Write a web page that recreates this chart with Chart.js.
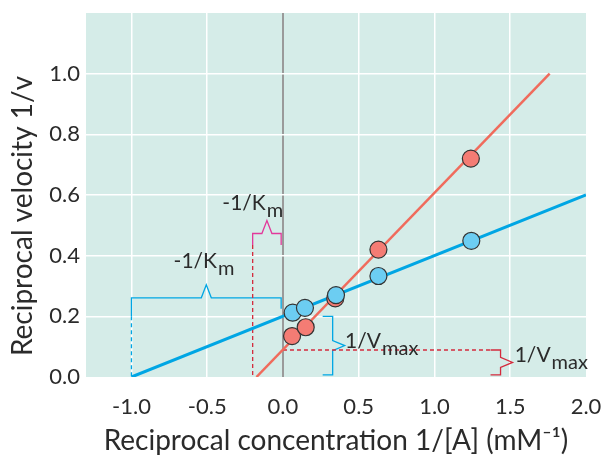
<!DOCTYPE html>
<html lang="en">
<head>
<meta charset="UTF-8">
<title>Lineweaver-Burk plot</title>
<script src="https://cdn.jsdelivr.net/npm/chart.js"></script>
<style>
  html, body { margin: 0; padding: 0; background: #fff; }
</style>
</head>
<body>
<canvas id="plot" width="602" height="455"></canvas>
<script>
const xRed = [0.06, 0.15, 0.345, 0.63, 1.24];
const yRed = [0.135, 0.164, 0.259, 0.42, 0.72];
const xBlue = [0.064, 0.145, 0.35, 0.63, 1.243];
const yBlue = [0.212, 0.228, 0.27, 0.333, 0.449];
// straight lines as drawn: start and end
const redLineX = [-0.175, 1.76];
const redLineY = [0.0, 1.0];
const blueLineX = [-1.0, 2.0];
const blueLineY = [0.0, 0.6];
// axis ticks
const xTicks = [-1.0, -0.5, 0.0, 0.5, 1.0, 1.5, 2.0];
const yTicks = [0.0, 0.2, 0.4, 0.6, 0.8, 1.0];

const pts = (xs, ys) => xs.map((x, i) => ({ x: x, y: ys[i] }));

const TEXT = '#2b2b2b';
const BLUE = '#00a6e4';
const RED = '#f06b5c';
const MAGENTA = '#e2389a';
const DASHRED = '#d42a3c';

// teal plot background
const plotBg = {
    id: 'plotBg',
    beforeDraw(chart) {
        const { ctx, chartArea: a } = chart;
        ctx.save();
        ctx.fillStyle = '#d5ece8';
        ctx.fillRect(a.left, a.top, a.right - a.left, a.bottom - a.top);
        ctx.restore();
    }
};

// brackets, dashed guides and their labels
function hBrace(ctx, xa, xb, y, legA, legB) {
    const xm = (xa + xb) / 2;
    ctx.beginPath();
    ctx.moveTo(xa, legA);
    ctx.lineTo(xa, y);
    ctx.lineTo(xm - 5, y);
    ctx.lineTo(xm, y - 13);
    ctx.lineTo(xm + 5, y);
    ctx.lineTo(xb, y);
    ctx.lineTo(xb, legB);
    ctx.stroke();
}
function vBrace(ctx, x, ya, yb) {
    const ym = (ya + yb) / 2;
    ctx.beginPath();
    ctx.moveTo(x - 10, ya);
    ctx.lineTo(x, ya);
    ctx.lineTo(x, ym - 5);
    ctx.lineTo(x + 12, ym);
    ctx.lineTo(x, ym + 5);
    ctx.lineTo(x, yb);
    ctx.lineTo(x - 10, yb);
    ctx.stroke();
}
function dashed(ctx, x1, y1, x2, y2, color) {
    ctx.save();
    ctx.strokeStyle = color;
    ctx.setLineDash([4, 3]);
    ctx.beginPath();
    ctx.moveTo(x1, y1);
    ctx.lineTo(x2, y2);
    ctx.stroke();
    ctx.restore();
}
function subLabel(ctx, x, y, main, sub) {
    ctx.save();
    ctx.fillStyle = TEXT;
    ctx.font = '21px Lato';
    ctx.textAlign = 'left';
    ctx.textBaseline = 'alphabetic';
    ctx.fillText(main, x, y);
    const w = ctx.measureText(main).width;
    ctx.font = '20px Lato';
    ctx.fillText(sub, x + w + 1, y + 7);
    ctx.restore();
}

const guides = {
    id: 'guides',
    beforeDatasetsDraw(chart) {
        const ctx = chart.ctx;
        const X = v => chart.scales.x.getPixelForValue(v);
        const Y = v => chart.scales.y.getPixelForValue(v);
        ctx.save();
        ctx.lineWidth = 1.3;

        // -1/Km for the blue line
        ctx.strokeStyle = BLUE;
        hBrace(ctx, X(-1.0), X(-0.012), Y(0.261), Y(0.2), Y(0.225));
        dashed(ctx, X(-1.0), Y(0.2), X(-1.0), Y(0.0), BLUE);

        // -1/Km for the red line
        ctx.strokeStyle = MAGENTA;
        hBrace(ctx, X(-0.2), X(-0.012), Y(0.473), Y(0.435), Y(0.435));
        dashed(ctx, X(-0.2), Y(0.435), X(-0.2), Y(0.0), DASHRED);

        // 1/Vmax for the blue line
        ctx.strokeStyle = BLUE;
        vBrace(ctx, X(0.328), Y(0.2), Y(0.007));

        // 1/Vmax for the red line
        dashed(ctx, X(0.0), Y(0.089), X(1.38), Y(0.089), DASHRED);
        ctx.strokeStyle = DASHRED;
        vBrace(ctx, X(1.436), Y(0.089), Y(0.007));

        subLabel(ctx, X(-0.4), Y(0.55), '-1/K', 'm');
        subLabel(ctx, X(-0.722), Y(0.358), '-1/K', 'm');
        subLabel(ctx, X(0.41), Y(0.095), '1/V', 'max');
        subLabel(ctx, X(1.529), Y(0.05), '1/V', 'max');
        ctx.restore();
    }
};

Chart.defaults.font.family = 'Lato';
Chart.defaults.color = TEXT;

new Chart(document.getElementById('plot'), {
    type: 'scatter',
    data: {
        datasets: [
            { label: 'blue points', data: pts(xBlue, yBlue), showLine: false,
              pointRadius: 8.5, pointHoverRadius: 8.5, backgroundColor: '#6ccdf2',
              borderColor: '#333333', borderWidth: 1.2 },
            { label: 'red points', data: pts(xRed, yRed), showLine: false,
              pointRadius: 8.5, pointHoverRadius: 8.5, backgroundColor: '#f47c74',
              borderColor: '#333333', borderWidth: 1.2 },
            { label: 'blue line', data: pts(blueLineX, blueLineY), showLine: true,
              borderColor: BLUE, borderWidth: 3, pointRadius: 0 },
            { label: 'red line', data: pts(redLineX, redLineY), showLine: true,
              borderColor: RED, borderWidth: 2.5, pointRadius: 0 }
        ]
    },
    options: {
        responsive: false,
        animation: false,
        layout: { padding: { top: 13, right: 16, left: 0, bottom: 0 } },
        plugins: { legend: { display: false }, tooltip: { enabled: false } },
        scales: {
            x: {
                type: 'linear', min: -1.3, max: 2.0,
                afterBuildTicks: s => { s.ticks = xTicks.map(v => ({ value: v })); },
                afterFit: s => { s.height = 78; s.paddingLeft = 0; s.paddingRight = 0; },
                ticks: { padding: 17, font: { size: 22 }, color: TEXT,
                         callback: v => v.toFixed(1) },
                grid: { drawTicks: false,
                        color: c => c.tick.value === 0 ? '#9a9a9a' : (c.tick.value === 2 ? 'rgba(0,0,0,0)' : '#ffffff'),
                        lineWidth: c => c.tick.value === 0 ? 2 : 1.5 },
                border: { display: false },
                title: { display: true, text: 'Reciprocal concentration 1/[A] (mM\u207B\u00B9)',
                         font: { size: 28, lineHeight: 1 }, color: TEXT, padding: { top: 0, bottom: 0 } }
            },
            y: {
                type: 'linear', min: 0, max: 1.2,
                afterBuildTicks: s => { s.ticks = yTicks.map(v => ({ value: v })); },
                afterFit: s => { s.width = 86; s.paddingTop = 0; s.paddingBottom = 0; },
                ticks: { padding: 6, font: { size: 22 }, color: TEXT,
                         callback: v => v.toFixed(1) },
                grid: { drawTicks: false,
                        color: c => c.tick.value === 0 ? 'rgba(0,0,0,0)' : '#ffffff',
                        lineWidth: 1.5 },
                border: { display: false },
                title: { display: true, text: 'Reciprocal velocity 1/v\u2003\u2003',
                         font: { size: 28, lineHeight: 1 }, color: TEXT, padding: { top: 9, bottom: 0 } }
            }
        }
    },
    plugins: [plotBg, guides]
});
</script>
</body>
</html>
